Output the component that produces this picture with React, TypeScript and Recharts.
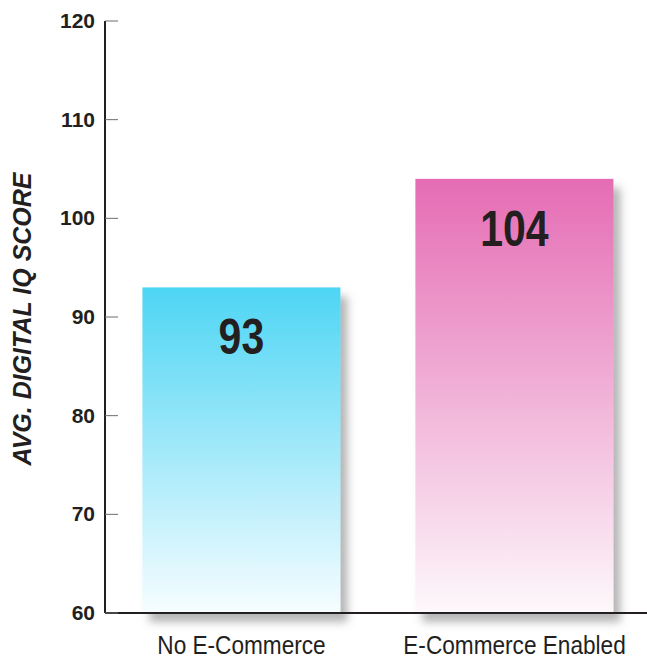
import { BarChart, Bar, XAxis, YAxis, LabelList, ReferenceLine } from "recharts";

const groups = ["No E-Commerce", "E-Commerce Enabled"];
const scores = [93, 104];
const yTicks = [60, 70, 80, 90, 100, 110, 120];
const axisTitle = "AVG. DIGITAL IQ SCORE";

const gradients = [
  { id: "barCyan", top: "#4dd5f4", bottom: "#f7fdff" },
  { id: "barPink", top: "#e56cb4", bottom: "#fdf8fb" },
];

const data = groups.map((name, i) => ({ name, score: scores[i] }));

const ink = "#231f20";
const sans = "'Liberation Sans', Arial, sans-serif";

// no condensed face installed, so squeeze the regular one horizontally
function Narrow({ x, y, squeeze, children, ...rest }: any) {
  return (
    <g transform={`translate(${x} ${y}) scale(${squeeze} 1)`}>
      <text x={0} y={0} textAnchor="middle" {...rest}>{children}</text>
    </g>
  );
}

function YTick(props: any) {
  const { x, y, payload } = props;
  return (
    <g>
      <line x1={x} x2={x + 13} y1={y} y2={y} stroke="#6d6d6d" strokeWidth={1} />
      <text x={x - 10} y={y + 7} textAnchor="end" fill={ink}
        style={{ fontFamily: sans, fontWeight: 700, fontSize: 21 }}>
        {payload.value}
      </text>
    </g>
  );
}

function XTick(props: any) {
  const { x, y, payload } = props;
  return (
    <Narrow x={x} y={y + 41} squeeze={0.87} fill={ink} style={{ fontFamily: sans, fontSize: 26 }}>
      {payload.value}
    </Narrow>
  );
}

function ShadowBar(props: any) {
  const { x, y, width, height, index } = props;
  return (
    <g filter="url(#barShadow)">
      <rect x={x} y={y} width={width} height={height} fill={`url(#${gradients[index].id})`} />
    </g>
  );
}

function ValueLabel(props: any) {
  const { x, y, width, value } = props;
  return (
    <Narrow x={x + width / 2} y={y + 67} squeeze={0.82} fill={ink}
      style={{ fontFamily: sans, fontWeight: 700, fontSize: 50 }}>
      {value}
    </Narrow>
  );
}

function AxisTitle(props: any) {
  const { viewBox } = props;
  const cx = viewBox.x - 23;
  const cy = viewBox.y + viewBox.height / 2 + 2;
  return (
    <text x={cx} y={cy} transform={`rotate(-90 ${cx} ${cy})`} textAnchor="middle" dominantBaseline="central"
      fill={ink}
      style={{ fontFamily: sans, fontWeight: 700, fontStyle: "italic", fontSize: 25 }}>
      {axisTitle}
    </text>
  );
}

export default function App() {
  return (
    <div style={{ position: "absolute", left: 0, top: 0, width: 647, height: 660, overflow: "hidden", background: "#fff" }}>
      <BarChart width={651} height={660} data={data} margin={{ top: 21, right: 0, bottom: 0, left: 45 }}
        barCategoryGap="13.7%">
        <defs>
          {gradients.map((g) => (
            <linearGradient key={g.id} id={g.id} x1="0" y1="0" x2="0" y2="1">
              <stop offset="0%" stopColor={g.top} />
              <stop offset="100%" stopColor={g.bottom} />
            </linearGradient>
          ))}
          <filter id="barShadow" x="-20%" y="-20%" width="150%" height="150%">
            <feDropShadow dx={7} dy={9} stdDeviation={4} floodColor="#6b6b6b" floodOpacity={0.5} />
          </filter>
        </defs>
        <Bar dataKey="score" shape={ShadowBar} isAnimationActive={false}>
          <LabelList dataKey="score" content={<ValueLabel />} />
        </Bar>
        <XAxis dataKey="name" height={47} tickLine={false} tickSize={0} tickMargin={0} tick={<XTick />}
          axisLine={{ stroke: ink, strokeWidth: 2 }} />
        <XAxis xAxisId="div" type="number" domain={[0, 2]} hide />
        <YAxis width={60} domain={[60, 120]} ticks={yTicks} interval={0} tickLine={false} tickSize={0} tickMargin={0}
          tick={<YTick />} axisLine={{ stroke: ink, strokeWidth: 2 }}
          label={{ content: <AxisTitle /> }} />
        <ReferenceLine xAxisId="div" segment={[{ x: 1, y: 60 }, { x: 1, y: 61.5 }]} stroke={ink} strokeWidth={1} />
      </BarChart>
    </div>
  );
}
